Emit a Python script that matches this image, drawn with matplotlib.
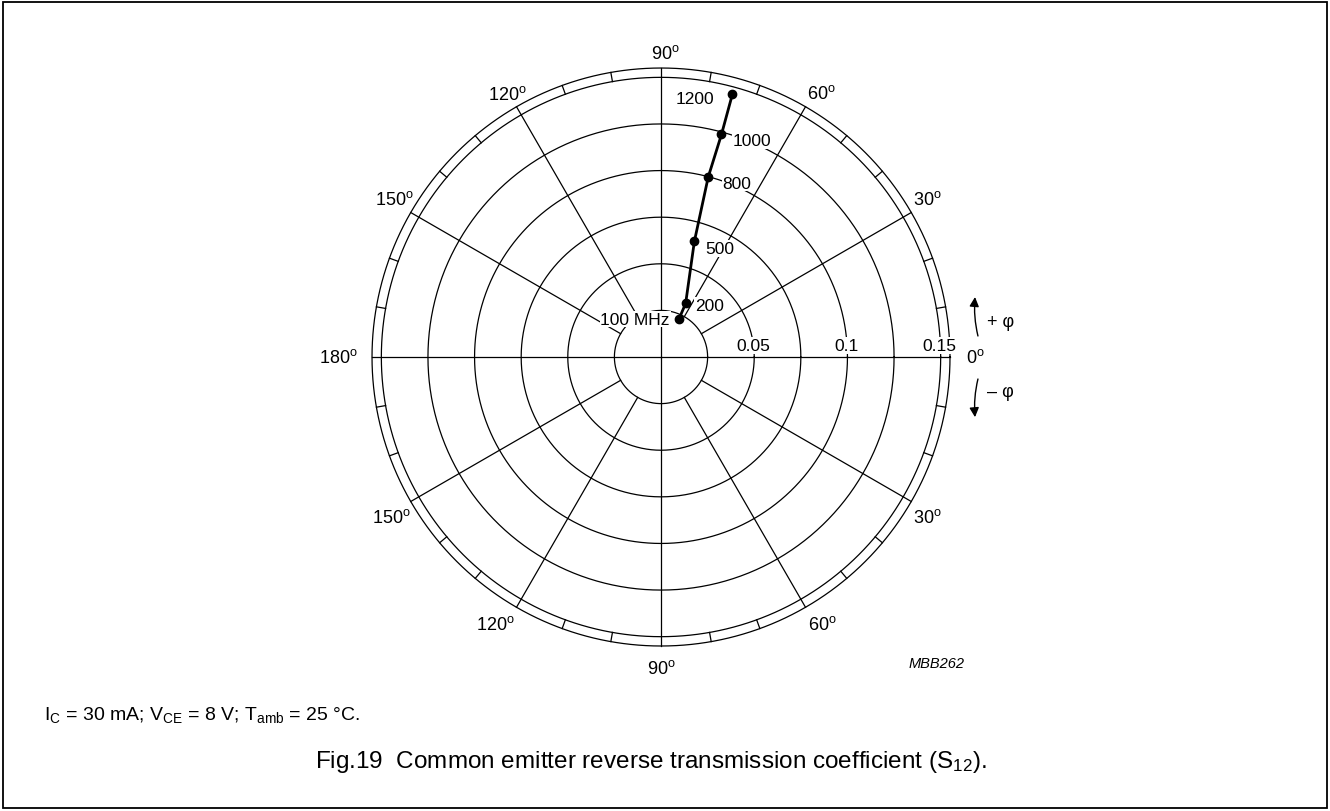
import matplotlib.pyplot as plt
import numpy as np
from matplotlib.patches import Rectangle

plt.rcParams['font.family'] = ['Liberation Sans', 'DejaVu Sans']
plt.rcParams['mathtext.fontset'] = 'custom'
plt.rcParams['mathtext.rm'] = 'Liberation Sans'
plt.rcParams['mathtext.it'] = 'Liberation Sans:italic'

# S12 data
freq_labels = ['100 MHz', '200', '500', '800', '1000', '1200']
magnitude = [0.0225, 0.0316, 0.0645, 0.0998, 0.1237, 0.1461]
phase_deg = [64.7, 65.3, 73.9, 75.3, 74.8, 74.8]

# grid settings
circle_values = [0.025, 0.05, 0.075, 0.1, 0.125, 0.15]
ring_labels = ['0.05', '0.1', '0.15']
ring_label_values = [0.05, 0.1, 0.15]
R_OUT = 0.155
angle_top = [0, 30, 60, 90, 120, 150, 180]
angle_bottom = [150, 120, 90, 60, 30]

LBL = 13      # angle labels
DLBL = 12.5   # data / magnitude labels

fig = plt.figure(figsize=(13.3, 8.12), dpi=100)
ax = fig.add_axes([0.2797, 0.2032, 0.4346, 0.7118], projection='polar')
ax.set_ylim(0, R_OUT)
ax.set_xticks([])
ax.set_yticks([])
ax.grid(False)
ax.spines['polar'].set_visible(False)

lw = 0.9
th = np.linspace(0, 2 * np.pi, 721)
for r in circle_values:
    ax.plot(th, np.full_like(th, r), color='black', lw=lw, zorder=1)
ax.plot(th, np.full_like(th, R_OUT), color='black', lw=lw, zorder=1, clip_on=False)

# radial lines
for a in range(0, 360, 30):
    r0 = 0 if a % 90 == 0 else circle_values[0]
    ax.plot([np.radians(a)] * 2, [r0, R_OUT], color='black', lw=lw, zorder=1, clip_on=False)
# ring ticks every 10 degrees
for a in range(0, 360, 10):
    if a % 30:
        ax.plot([np.radians(a)] * 2, [0.15, R_OUT], color='black', lw=lw, zorder=1, clip_on=False)

# magnitude labels
for lab, v in zip(ring_labels, ring_label_values):
    ax.annotate(lab, (0, v), xytext=(-1, 4), textcoords='offset pixels',
                ha='center', va='bottom', fontsize=DLBL, zorder=3,
                bbox=dict(facecolor='white', edgecolor='none', pad=0.5))

# angle labels
def deg(s):
    return s + r'$^{\mathrm{o}}$'

top_offsets = {0: (16, 0, 'left', 'center'), 30: (2, 5, 'left', 'bottom'),
               60: (1, 5, 'left', 'bottom'), 90: (4, 6, 'center', 'bottom'),
               120: (10, 4, 'right', 'bottom'), 150: (3, 5, 'right', 'bottom'),
               180: (-14, 0, 'right', 'center')}
for a in angle_top:
    dx, dy, ha, va = top_offsets[a]
    ax.annotate(deg(str(a)), (np.radians(a), R_OUT), xytext=(dx, dy),
                textcoords='offset pixels', ha=ha, va=va, fontsize=LBL,
                annotation_clip=False)

bottom_offsets = {150: (0, -6, 'right', 'top'), 120: (-2, -8, 'right', 'top'),
                  90: (0, -13, 'center', 'top'), 60: (2, -8, 'left', 'top'),
                  30: (2, -6, 'left', 'top')}
for a in angle_bottom:
    dx, dy, ha, va = bottom_offsets[a]
    ax.annotate(deg(str(a)), (-np.radians(a), R_OUT), xytext=(dx, dy),
                textcoords='offset pixels', ha=ha, va=va, fontsize=LBL,
                annotation_clip=False)

# S12 curve
theta = np.radians(phase_deg)
ax.plot(theta, magnitude, color='black', lw=2.0, marker='o', markersize=6, zorder=4)

label_offsets = [(-9, 0, 'right'), (9, -2, 'left'), (11, -7, 'left'),
                 (14, -6, 'left'), (11, -6, 'left'), (-18, -4, 'right')]
for lab, t, r, (dx, dy, ha) in zip(freq_labels, theta, magnitude, label_offsets):
    ax.annotate(lab, (t, r), xytext=(dx, dy), textcoords='offset pixels',
                ha=ha, va='center', fontsize=DLBL, zorder=3,
                bbox=dict(facecolor='white', edgecolor='none', pad=0.5))

# frame
fig.patches.append(Rectangle((0.0025, 0.004), 0.995, 0.992, transform=fig.transFigure,
                             fill=False, edgecolor='black', lw=1.3))

# phase direction arrows
arrow = dict(arrowstyle='-|>', color='black', lw=1.0, mutation_scale=14,
             connectionstyle='arc3,rad=-0.08', shrinkA=0, shrinkB=0)
ax.annotate('', xy=(0.7331, 0.633), xycoords='figure fraction',
            xytext=(0.7353, 0.585), textcoords='figure fraction', arrowprops=arrow)
arrow2 = dict(arrow, connectionstyle='arc3,rad=0.08')
ax.annotate('', xy=(0.7331, 0.485), xycoords='figure fraction',
            xytext=(0.7353, 0.532), textcoords='figure fraction', arrowprops=arrow2)
fig.text(0.742, 0.6034, '+ φ', fontsize=LBL, va='center', ha='left')
fig.text(0.742, 0.517, '\u2013 φ', fontsize=LBL, va='center', ha='left')

fig.text(0.683, 0.177, 'MBB262', fontsize=10.5, style='italic', ha='left', va='baseline')
fig.text(0.033, 0.113, r'I$_\mathrm{C}$ = 30 mA; V$_\mathrm{CE}$ = 8 V; T$_\mathrm{amb}$ = 25 °C.',
         fontsize=14, ha='left', va='baseline')
fig.text(0.237, 0.054, r'Fig.19  Common emitter reverse transmission coefficient (S$_\mathrm{12}$).',
         fontsize=17.5, ha='left', va='baseline')

fig.savefig('out.png', dpi=100)
